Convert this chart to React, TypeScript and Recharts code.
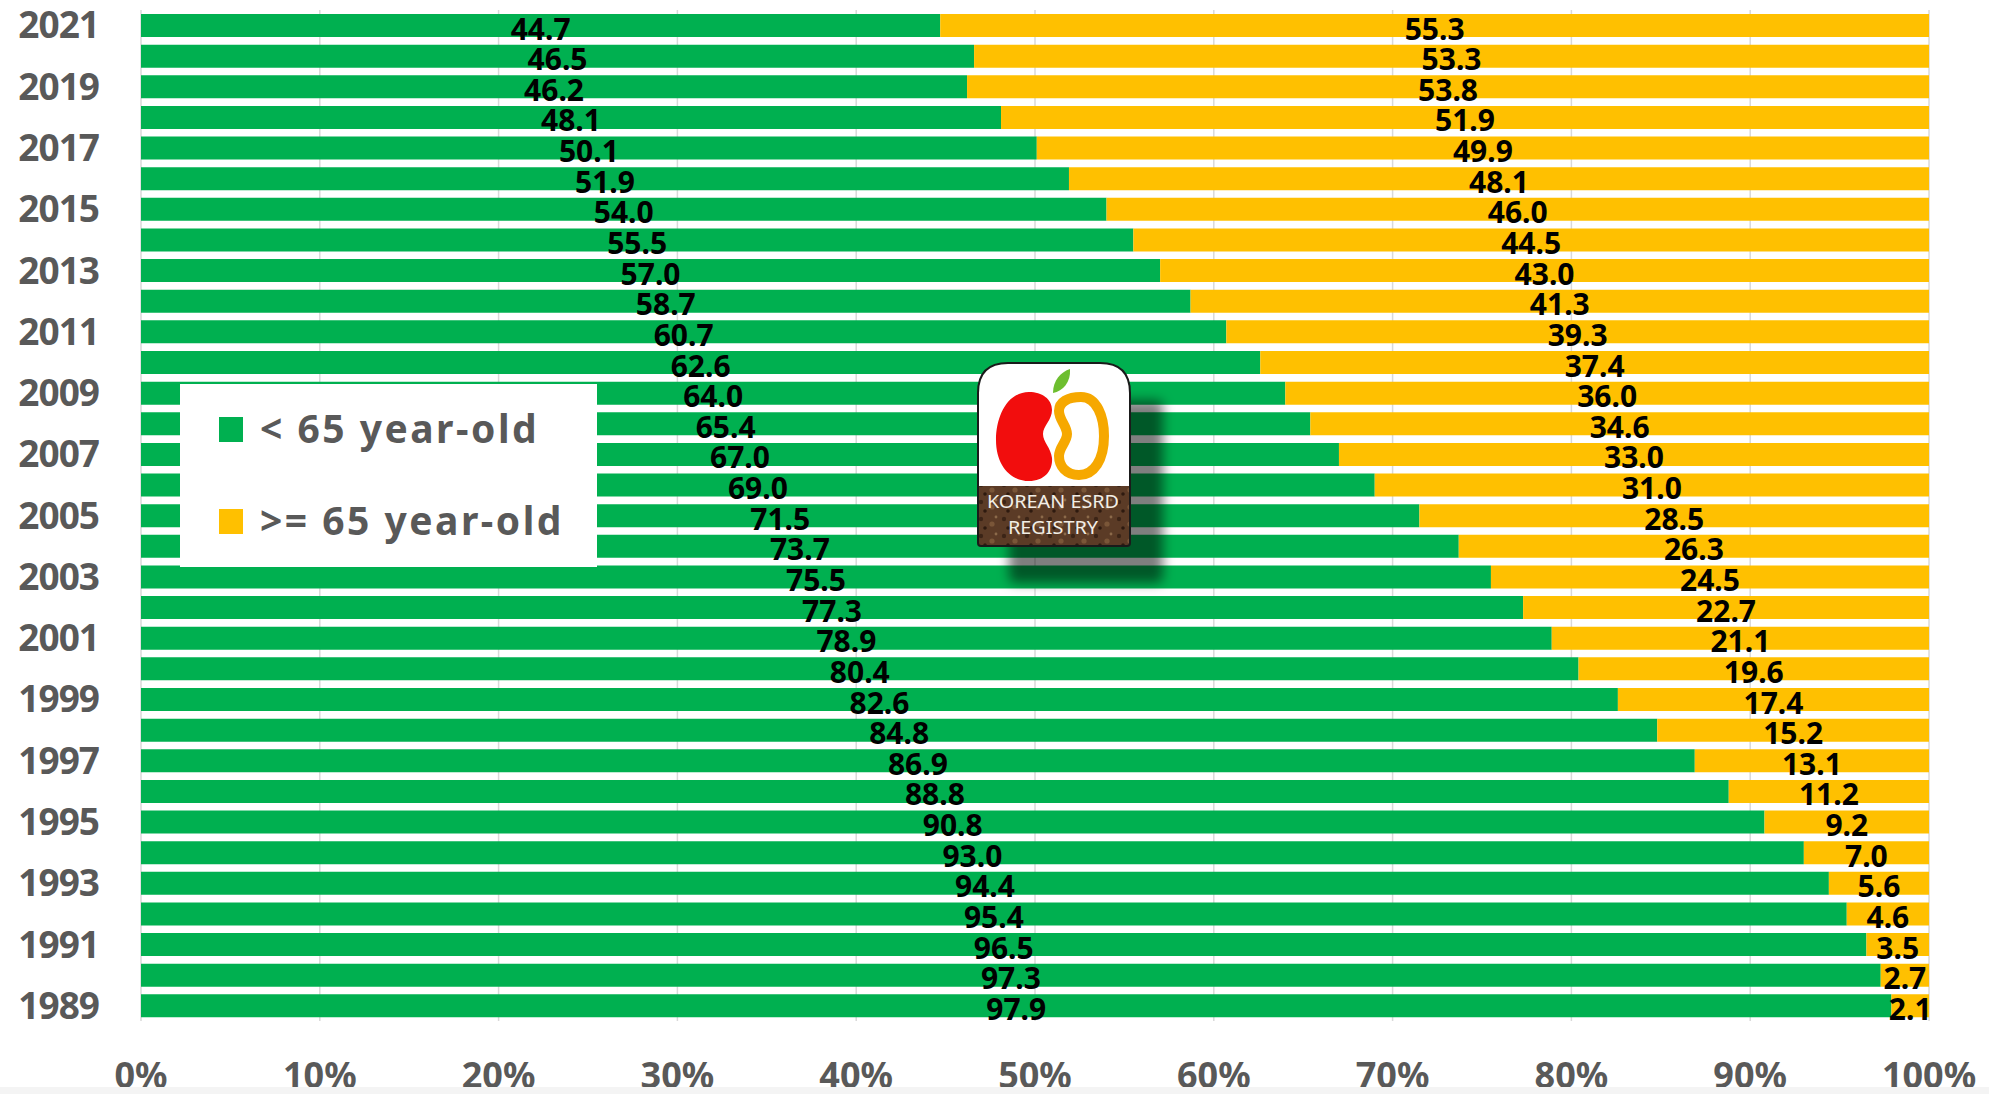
import React from 'react';
import { BarChart, Bar, XAxis, YAxis, CartesianGrid, Legend, LabelList } from 'recharts';

const years = [
  '2021', '2020', '2019', '2018', '2017', '2016', '2015', '2014', '2013', '2012', '2011',
  '2010', '2009', '2008', '2007', '2006', '2005', '2004', '2003', '2002', '2001', '2000',
  '1999', '1998', '1997', '1996', '1995', '1994', '1993', '1992', '1991', '1990', '1989',
];
const under65 = [
  44.7, 46.5, 46.2, 48.1, 50.1, 51.9, 54.0, 55.5, 57.0, 58.7, 60.7,
  62.6, 64.0, 65.4, 67.0, 69.0, 71.5, 73.7, 75.5, 77.3, 78.9, 80.4,
  82.6, 84.8, 86.9, 88.8, 90.8, 93.0, 94.4, 95.4, 96.5, 97.3, 97.9,
];
const over65 = [
  55.3, 53.3, 53.8, 51.9, 49.9, 48.1, 46.0, 44.5, 43.0, 41.3, 39.3,
  37.4, 36.0, 34.6, 33.0, 31.0, 28.5, 26.3, 24.5, 22.7, 21.1, 19.6,
  17.4, 15.2, 13.1, 11.2, 9.2, 7.0, 5.6, 4.6, 3.5, 2.7, 2.1,
];
const seriesNames = ['< 65 year-old', '>= 65 year-old'];
const xTicks = [0, 0.1, 0.2, 0.3, 0.4, 0.5, 0.6, 0.7, 0.8, 0.9, 1];

const GREEN = '#00B050';
const YELLOW = '#FFC000';
const GREY = '#595959';
const FONT = '"Noto Sans", sans-serif';

const data = years.map((year, i) => ({ year, under65: under65[i], over65: over65[i] }));

// value printed just under the middle of each segment
const segmentLabel = (values: number[]) => (props: any) => {
  const { x, y, width, height, index } = props;
  return (
    <text
      x={Number(x) + Number(width) / 2}
      y={Number(y) + Number(height) + 2.5}
      textAnchor="middle"
      fontFamily={FONT}
      fontWeight={700}
      fontSize={30}
      fill="#000"
    >
      {values[index].toFixed(1)}
    </text>
  );
};

const LegendBox = (props: any) => {
  const items = props.payload || [];
  return (
    <svg width={417} height={183} style={{ display: 'block', background: '#fff' }}>
      {items.map((item: any, i: number) => (
        <g key={item.value} transform={`translate(0, ${i * 92})`}>
          <rect x={39} y={33} width={24} height={25} fill={item.color} />
          <text x={80} y={59} fontFamily={FONT} fontWeight={700} fontSize={39} fill={GREY} letterSpacing={2.5}>
            {item.value}
          </text>
        </g>
      ))}
    </svg>
  );
};

const RegistryLogo = () => (
  <svg
    width={200}
    height={235}
    style={{ position: 'absolute', left: 977, top: 362, pointerEvents: 'none' }}
  >
    <defs>
      <filter id="logoShadow" x="-20%" y="-20%" width="140%" height="140%">
        <feGaussianBlur stdDeviation="6" />
      </filter>
      <clipPath id="logoClip">
        <path d="M 1 31 Q 1 1 31 1 L 123 1 Q 153 1 153 31 L 153 181 Q 153 184 150 184 L 4 184 Q 1 184 1 181 Z" />
      </clipPath>
      <pattern id="soil" width="23" height="17" patternUnits="userSpaceOnUse">
        <rect width="23" height="17" fill="#5b3b26" />
        <circle cx="4" cy="4" r="2.2" fill="#3b2416" />
        <circle cx="15" cy="9" r="2.6" fill="#7a5638" />
        <circle cx="8" cy="13" r="1.8" fill="#2e1a0f" />
        <circle cx="19" cy="2" r="1.4" fill="#8c6a4a" />
      </pattern>
    </defs>
    <rect x={32} y={38} width={154} height={183} rx={6} fill="rgba(0,0,0,0.5)" filter="url(#logoShadow)" />
    <g clipPath="url(#logoClip)">
      <rect x={0} y={0} width={155} height={186} fill="#fff" />
      <rect x={0} y={124} width={155} height={62} fill="url(#soil)" />
    </g>
    <path
      d="M 1 31 Q 1 1 31 1 L 123 1 Q 153 1 153 31 L 153 181 Q 153 184 150 184 L 4 184 Q 1 184 1 181 Z"
      fill="none"
      stroke="#1a1a1a"
      strokeWidth={2}
    />
    <path
      d="M 52 30 C 30 30 19 55 19 78 C 19 103 33 119 52 119 C 68 119 76 108 75 96 C 74 86 66 80 66 72 C 66 64 75 58 75 48 C 75 37 65 30 52 30 Z"
      fill="#F20D0D"
    />
    <path
      d="M 104 35 C 120 35 127 55 127 74 C 127 98 117 113 102 113 C 89 113 82 104 82 94 C 82 85 90 80 90 72 C 90 64 82 58 82 49 C 82 40 91 35 104 35 Z"
      fill="none"
      stroke="#F6A800"
      strokeWidth={10}
    />
    <path d="M 76 31 C 76 18 84 10 93 7 C 94 20 86 29 76 31 Z" fill="#6DBE2F" />
    <text x={76} y={146} textAnchor="middle" fontFamily={FONT} fontSize={18} fill="#f2eee6" textLength={132} lengthAdjust="spacingAndGlyphs">
      KOREAN ESRD
    </text>
    <text x={76} y={172} textAnchor="middle" fontFamily={FONT} fontSize={18} fill="#f2eee6" textLength={90} lengthAdjust="spacingAndGlyphs">
      REGISTRY
    </text>
  </svg>
);

export default function App() {
  return (
    <div style={{ position: 'fixed', left: 0, top: 0, width: 1989, height: 1094, background: '#fff', overflow: 'hidden' }}>
      <BarChart
        width={1989}
        height={1094}
        data={data}
        layout="vertical"
        stackOffset="expand"
        margin={{ top: 10, right: 60, bottom: 0, left: 0 }}
      >
        <CartesianGrid horizontal={false} stroke="#D9D9D9" strokeWidth={1.5} />
        <XAxis
          type="number"
          domain={[0, 1]}
          ticks={xTicks}
          tickFormatter={(v: number) => `${Math.round(v * 100)}%`}
          axisLine={false}
          tickLine={false}
          tickSize={0}
          tickMargin={41}
          height={73}
          interval={0}
          tick={{ fill: GREY, fontFamily: FONT, fontWeight: 700, fontSize: 36 }}
        />
        <YAxis
          type="category"
          dataKey="year"
          interval={1}
          axisLine={false}
          tickLine={false}
          tickSize={0}
          tickMargin={42}
          width={141}
          tick={{ fill: GREY, fontFamily: FONT, fontWeight: 700, fontSize: 37, letterSpacing: -1 }}
        />
        <Legend
          layout="horizontal"
          align="center"
          verticalAlign="middle"
          content={<LegendBox />}
          wrapperStyle={{ left: 180, top: 384, width: 417, height: 183 }}
        />
        <Bar dataKey="under65" name={seriesNames[0]} stackId="age" fill={GREEN} barSize={23} isAnimationActive={false}>
          <LabelList dataKey="under65" content={segmentLabel(under65)} />
        </Bar>
        <Bar dataKey="over65" name={seriesNames[1]} stackId="age" fill={YELLOW} barSize={23} isAnimationActive={false}>
          <LabelList dataKey="over65" content={segmentLabel(over65)} />
        </Bar>
      </BarChart>
      <RegistryLogo />
      <div style={{ position: 'absolute', left: 0, top: 1087, width: 1989, height: 7, background: '#F4F4F4' }} />
    </div>
  );
}
